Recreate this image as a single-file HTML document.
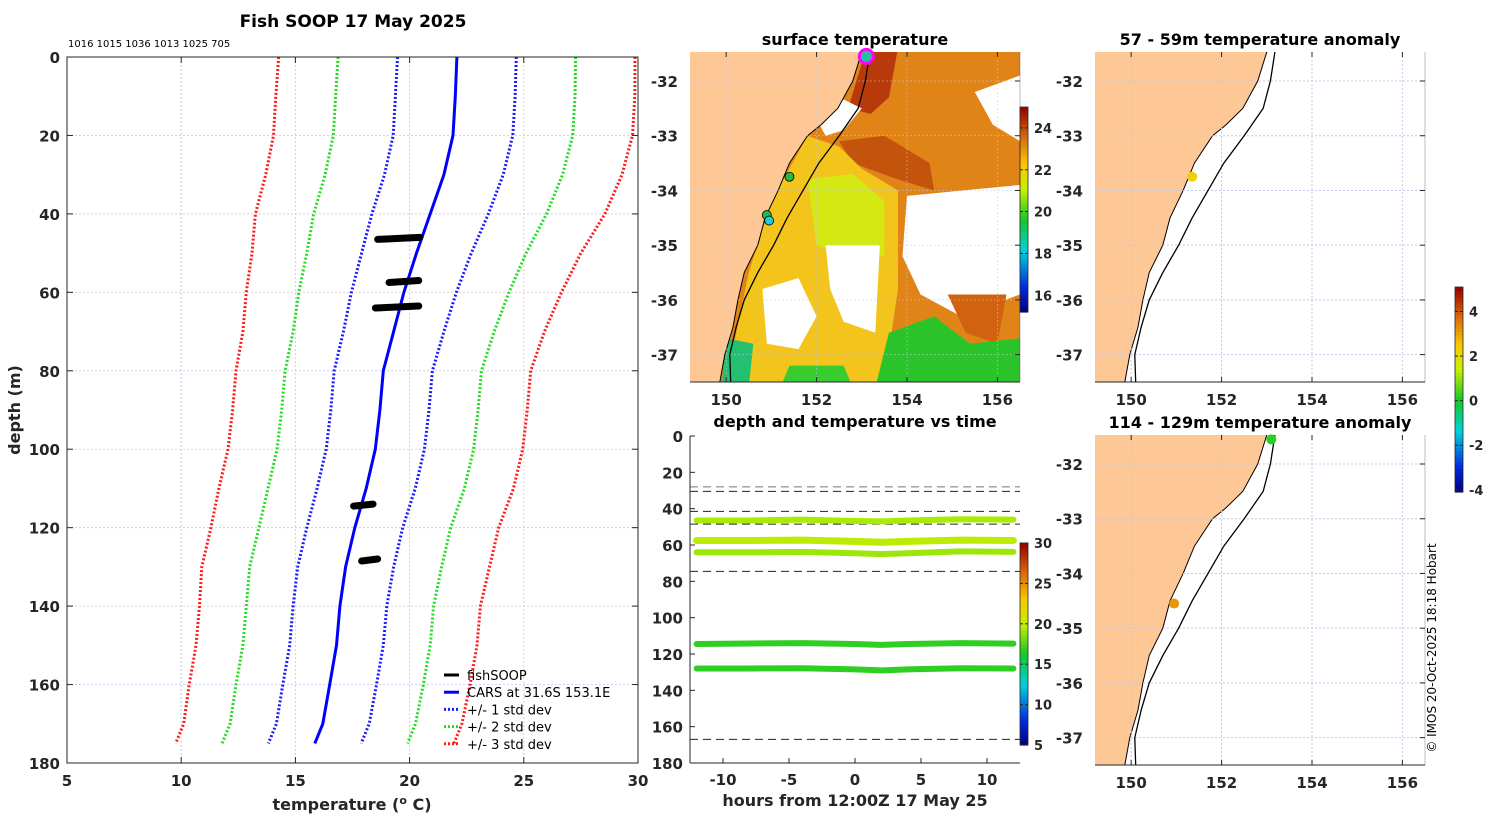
<!DOCTYPE html>
<html><head><meta charset="utf-8"><style>
body{margin:0;background:#fff;width:1500px;height:820px;overflow:hidden}
svg{display:block}
text{font-family:"DejaVu Sans","Liberation Sans",sans-serif;fill:#262626}
.tk{font-weight:bold;font-size:15px}
.pl{font-weight:normal}
.ttl{font-weight:bold;font-size:16px;fill:#000}
</style></head><body>
<svg id="s" width="1500" height="820" xmlns="http://www.w3.org/2000/svg"></svg>
<script>
// ---------- DATA ----------
const caDepths=[0,10,20,30,40,50,60,70,80,90,100,110,120,130,140,150,160,170,175];
const caMean=[22.07,22.0,21.9,21.5,20.9,20.3,19.75,19.3,18.85,18.7,18.5,18.1,17.6,17.2,16.95,16.8,16.5,16.2,15.85];
const caSd=[2.6,2.62,2.62,2.6,2.55,2.4,2.3,2.2,2.15,2.15,2.15,2.15,2.1,2.1,2.05,2.05,2.05,2.03,2.03];
const fsDepth=[46.5,57.5,64,114.5,128.5];
const fsTmin=[18.6,19.1,18.5,17.55,17.9];
const fsTmax=[20.45,20.4,20.4,18.4,18.6];
const xTicks=[5,10,15,20,25,30];
const yTicks=[0,20,40,60,80,100,120,140,160,180];
const tsHours=[-12,-8,-4,0,2,4,8,12];
const tsDepth1=[46.5,46.5,46,46.8,47,46.5,45.8,46];
const tsDepth2=[57.5,57.5,57.3,58,58.5,58,57.3,57.5];
const tsDepth3=[64,64,63.8,64.5,65,64.5,63.5,63.8];
const tsDepth4=[114.5,114.2,114,114.5,115,114.5,114,114.3];
const tsDepth5=[128,128,127.8,128.5,129,128.5,127.8,128];
const tsTemp=[19.4,19.7,19.1,16.8,16.8];
const dashDepths=[28,30.5,41.5,48.5,74.5,167];
const coastLon=[153.0,152.8,152.47,152.1,151.8,151.4,151.15,150.86,150.7,150.4,150.26,150.15,149.97,149.86];
const coastLat=[-31.47,-32,-32.5,-32.8,-33,-33.5,-34,-34.5,-35,-35.5,-36,-36.5,-37,-37.5];
const isoLon=[153.18,153.08,152.92,152.5,152.05,151.7,151.35,151.05,150.7,150.4,150.22,150.08,150.1];
const isoLat=[-31.47,-32,-32.5,-33,-33.5,-34,-34.5,-35,-35.5,-36,-36.5,-37,-37.5];
// ---------- HELPERS ----------
const S=document.getElementById('s');const NS='http://www.w3.org/2000/svg';
function el(t,a,p){const e=document.createElementNS(NS,t);for(const k in a)e.setAttribute(k,a[k]);(p||S).appendChild(e);return e;}
function tx(x,y,s,cls,anchor,extra){const e=el('text',Object.assign({x:x,y:y,class:cls===undefined?'tk':cls,'text-anchor':anchor||'middle'},extra||{}));e.textContent=s;return e;}
function jet(v,lo,hi){let t=(v-lo)/(hi-lo);t=Math.max(0,Math.min(1,t));
 const st=[[0,0,0,128],[0.12,0,40,220],[0.3,0,210,220],[0.45,20,200,40],[0.6,200,240,0],[0.72,250,200,0],[0.85,220,110,10],[1,150,0,0]];
 for(let i=1;i<st.length;i++){if(t<=st[i][0]){const a=st[i-1],b=st[i],f=(t-a[0])/(b[0]-a[0]);return `rgb(${Math.round(a[1]+f*(b[1]-a[1]))},${Math.round(a[2]+f*(b[2]-a[2]))},${Math.round(a[3]+f*(b[3]-a[3]))})`;}}return 'rgb(150,0,0)';}
function colorbar(x,y0,y1,lo,hi,ticks,name){const g=el('g',{});
 const n=60;for(let i=0;i<n;i++){const v=lo+(hi-lo)*(i+0.5)/n;const yy=y1-(y1-y0)*(i+1)/n;el('rect',{x:x,y:yy,width:8,height:(y1-y0)/n+0.6,fill:jet(v,lo,hi)},g);}
 el('rect',{x:x,y:y0,width:8,height:y1-y0,fill:'none',stroke:'#262626','stroke-width':0.8},g);
 ticks.forEach(t=>{const yy=y1-(t-lo)/(hi-lo)*(y1-y0);el('line',{x1:x,x2:x+3,y1:yy,y2:yy,stroke:'#262626'},g);el('line',{x1:x+5,x2:x+8,y1:yy,y2:yy,stroke:'#262626'},g);tx(x+14,yy+5,String(t),'tk','start',{style:'font-size:13px'});});}
// ---------- MAIN PROFILE ----------
const PX0=67,PX1=638,PY0=57,PY1=763;
const sx=t=>PX0+(t-5)/25*(PX1-PX0), sy=d=>PY0+d/180*(PY1-PY0);
tx(353,27,'Fish SOOP 17 May 2025','ttl','middle',{style:'font-size:17px'});
tx(68,47,'1016 1015 1036 1013 1025 705','pl','start',{style:'font-size:10px;fill:#000',});
const gg=el('g',{});
xTicks.slice(1,-1).forEach((t,i)=>el('line',{x1:sx(t),x2:sx(t),y1:PY0,y2:PY1,stroke:i%2?'#e8c8c8':'#c8d0ec','stroke-dasharray':'2,2'},gg));
yTicks.slice(1,-1).forEach((t,i)=>el('line',{x1:PX0,x2:PX1,y1:sy(t),y2:sy(t),stroke:i%2?'#c8d0ec':'#e8d0c8','stroke-dasharray':'2,2'},gg));
function prof(k,col,name){const pts=caDepths.map((d,i)=>sx(caMean[i]+k*caSd[i]).toFixed(1)+','+sy(d).toFixed(1)).join(' ');
 const e=el('polyline',{points:pts,fill:'none',stroke:col,'stroke-width':3,'stroke-dasharray':k===0?'none':'2,2'});}
prof(-3,'#ff1a1a','minus-3-std-line');prof(3,'#ff1a1a','plus-3-std-line');
prof(-2,'#22dd22','minus-2-std-line');prof(2,'#22dd22','plus-2-std-line');
prof(-1,'#1a1aff','minus-1-std-line');prof(1,'#1a1aff','plus-1-std-line');
prof(0,'#0000ff','cars-mean-line');
fsDepth.forEach((d,i)=>{const e=el('line',{x1:sx(fsTmin[i]),x2:sx(fsTmax[i]),y1:sy(d),y2:sy(d)-2,stroke:'#000','stroke-width':7,'stroke-linecap':'round'});});
el('rect',{x:PX0,y:PY0,width:PX1-PX0,height:PY1-PY0,fill:'none',stroke:'#262626','stroke-width':1});
xTicks.forEach(t=>{el('line',{x1:sx(t),x2:sx(t),y1:PY1,y2:PY1-6,stroke:'#262626'});el('line',{x1:sx(t),x2:sx(t),y1:PY0,y2:PY0+6,stroke:'#262626'});tx(sx(t),786,String(t));});
yTicks.forEach(t=>{el('line',{x1:PX0,x2:PX0+6,y1:sy(t),y2:sy(t),stroke:'#262626'});el('line',{x1:PX1,x2:PX1-6,y1:sy(t),y2:sy(t),stroke:'#262626'});tx(60,sy(t)+6,String(t),'tk','end');});
tx(20,410,'depth (m)','tk','middle',{transform:'rotate(-90 20 410)',style:'font-size:16px'});
(function(){const t=el('text',{x:352,y:810,'text-anchor':'middle',class:'tk',style:'font-size:16px'});t.innerHTML='temperature (<tspan dy="-6" style="font-size:11px">o</tspan><tspan dy="6"> C)</tspan>';})();
const leg=[['fishSOOP','#000','none'],['CARS at 31.6S 153.1E','#0000ff','none'],['+/- 1 std dev','#1a1aff','2,2'],['+/- 2 std dev','#22dd22','2,2'],['+/- 3 std dev','#ff1a1a','2,2']];
const lg=el('g',{});
leg.forEach((l,i)=>{const y=675+i*17.2;el('line',{x1:444,x2:459,y1:y,y2:y,stroke:l[1],'stroke-width':3,'stroke-dasharray':l[2]},lg);const t=el('text',{x:467,y:y+5,style:'font-size:13px;fill:#000'},lg);t.textContent=l[0];});
// ---------- MAPS ----------
function mapPanel(x0,y0,w,h,name,title,ty){const lo0=149.2,lo1=156.5,la0=-31.47,la1=-37.5;
 const mx=lo=>x0+(lo-lo0)/(lo1-lo0)*w,my=la=>y0+(la-la0)/(la1-la0)*h;
 const g=el('g',{});
 const cp='cp'+name;const c=el('clipPath',{id:cp},g);el('rect',{x:x0,y:y0,width:w,height:h},c);
 const inner=el('g',{'clip-path':`url(#${cp})`},g);
 return {g,inner,mx,my,x0,y0,w,h,title,ty};}
function finishMap(m,sst){const {g,inner,mx,my,x0,y0,w,h}=m;
 const cl=coastLon.map((lo,i)=>mx(lo)+','+my(coastLat[i])).join(' ');
 el('polygon',{points:`${x0-5},${y0-5} ${mx(153.2)},${y0-5} ${cl} ${mx(149.8)},${y0+h+5} ${x0-5},${y0+h+5}`,fill:'#fdc896',stroke:'#000','stroke-width':1},inner);
 [150,152,154,156].forEach(lo=>el('line',{x1:mx(lo),x2:mx(lo),y1:y0,y2:y0+h,stroke:'#c0c8e8','stroke-dasharray':'2,2','stroke-width':sst?0.5:1},inner));
 [-32,-33,-34,-35,-36,-37].forEach(la=>el('line',{x1:x0,x2:x0+w,y1:my(la),y2:my(la),stroke:'#c0c8e8','stroke-dasharray':'2,2','stroke-width':sst?0.5:1},inner));
 el('polyline',{points:isoLon.map((lo,i)=>mx(lo)+','+my(isoLat[i])).join(' '),fill:'none',stroke:'#000','stroke-width':1.3},inner);
 el('line',{x1:x0,x2:x0+w,y1:y0+h,y2:y0+h,stroke:'#262626'},g);el('line',{x1:x0+w,x2:x0+w,y1:y0,y2:y0+h,stroke:'#262626','stroke-opacity':0.3},g);
 [150,152,154,156].forEach(lo=>{el('line',{x1:mx(lo),x2:mx(lo),y1:y0+h,y2:y0+h-5,stroke:'#262626'},g);el('line',{x1:mx(lo),x2:mx(lo),y1:y0,y2:y0+5,stroke:'#262626'},g);tx(mx(lo),y0+h+23,String(lo));});
 [-32,-33,-34,-35,-36,-37].forEach(la=>{el('line',{x1:x0+w,x2:x0+w-5,y1:my(la),y2:my(la),stroke:'#262626'},g);tx(x0-12,my(la)+6,String(la),'tk','end');});
 tx(x0+w/2,m.ty,m.title,'ttl');}
// SST map
const m1=mapPanel(690,52,330,330,'sst-map','surface temperature',45);
(function(){const {inner,mx,my}=m1;const P=(arr,fill)=>el('polygon',{points:arr.map(p=>mx(p[0])+','+my(p[1])).join(' '),fill:fill},inner);
 P([[149,-31],[157,-31],[157,-38],[149,-38]],'#e08418');
 P([[153.1,-31.4],[153.8,-31.4],[153.6,-32.3],[153.2,-32.6],[152.7,-32.5]],'#b83a0a');
 P([[152.5,-33.1],[153.5,-33.0],[154.5,-33.5],[154.6,-34.0],[153.8,-33.8],[152.8,-33.5]],'#c4540c');
 P([[151.8,-33],[152.5,-33.2],[153,-33.6],[153.8,-34],[153.8,-35.8],[153.5,-37.5],[150,-37.5],[150.5,-35.5],[151,-34.2]],'#f3c41c');
 P([[151.8,-33.8],[152.8,-33.7],[153.5,-34.2],[153.5,-35.2],[152.8,-35.3],[152,-35]],'#d4e814');
 P([[152.2,-35.0],[153.4,-35.0],[153.3,-36.6],[152.6,-36.4],[152.3,-35.8]],'#ffffff');
 P([[150.8,-35.8],[151.6,-35.6],[152.0,-36.3],[151.6,-36.9],[150.9,-36.8]],'#ffffff');
 P([[154.0,-34.1],[156.5,-33.9],[156.5,-35.9],[155.2,-36.3],[154.3,-35.9],[153.9,-35.2]],'#ffffff');
 P([[155.5,-32.2],[156.5,-31.9],[156.5,-33.1],[155.9,-32.8]],'#ffffff');
 P([[153.0,-32.5],[152.6,-32.9],[152.2,-33.0],[152.0,-32.7],[152.5,-32.3]],'#ffffff');
 P([[154.9,-35.9],[156.2,-35.9],[156.0,-36.8],[155.3,-36.6]],'#d06210');
 P([[153.6,-36.6],[154.6,-36.3],[155.4,-36.8],[156.5,-36.7],[156.5,-37.6],[153.3,-37.6]],'#2ac42a');
 P([[150,-36.7],[150.6,-36.8],[150.5,-37.6],[149.9,-37.6]],'#22c070');
 P([[151.4,-37.2],[152.6,-37.2],[152.8,-37.6],[151.2,-37.6]],'#38cc30');
 finishMap(m1,true);
 const dots=[[153.1,-31.55,'#22c0a0','#ff00ff',7],[151.4,-33.75,'#22bb44','#000',4.5],[150.9,-34.45,'#22bb44','#000',4.5],[150.95,-34.55,'#22ccdd','#000',4.5]];
 dots.forEach(d=>{const e=el('circle',{cx:mx(d[0]),cy:my(d[1]),r:d[4],fill:d[2],stroke:d[3],'stroke-width':d[3]==='#ff00ff'?3:0.8},m1.g);});})();
colorbar(1020,107,312,15.2,25,[16,18,20,22,24],'sst-colorbar');
// anomaly maps
const m2=mapPanel(1095,52,330,330,'anomaly-map-57-59m','57 - 59m temperature anomaly',45);finishMap(m2,false);
(function(){const e=el('circle',{cx:m2.mx(151.35),cy:m2.my(-33.75),r:5,fill:jet(2.3,-4.1,5.1)},m2.g);})();
const m3=mapPanel(1095,435,330,330,'anomaly-map-114-129m','114 - 129m temperature anomaly',428);finishMap(m3,false);
(function(){[[153.1,-31.55,0.2],[150.95,-34.55,3.2]].forEach(d=>{const e=el('circle',{cx:m3.mx(d[0]),cy:m3.my(d[1]),r:5,fill:jet(d[2],-4.1,5.1)},m3.g);});})();
colorbar(1455,287,492,-4.1,5.1,[-4,-2,0,2,4],'anomaly-colorbar');
// ---------- TIME PANEL ----------
const TX0=690,TX1=1020,TY0=436,TY1=763;
const hx=h=>TX0+(h+12.5)/25*(TX1-TX0),dy=d=>TY0+d/180*(TY1-TY0);
tx(855,427,'depth and temperature vs time','ttl');
dashDepths.forEach((d,i)=>{const e=el('line',{x1:TX0,x2:TX1,y1:dy(d),y2:dy(d),stroke:i===0?'#777':'#222','stroke-dasharray':'8,5','stroke-width':1});});
[tsDepth1,tsDepth2,tsDepth3,tsDepth4,tsDepth5].forEach((s,i)=>{const e=el('polyline',{points:tsHours.map((h,j)=>hx(h).toFixed(1)+','+dy(s[j]).toFixed(1)).join(' '),fill:'none',stroke:jet(tsTemp[i],5,30),'stroke-width':i===1?7:6,'stroke-linecap':'round'});});
el('line',{x1:TX0,x2:TX0,y1:TY0,y2:TY1,stroke:'#262626'});el('line',{x1:TX0,x2:TX1,y1:TY1,y2:TY1,stroke:'#262626'});
[-10,-5,0,5,10].forEach(h=>{el('line',{x1:hx(h),x2:hx(h),y1:TY1,y2:TY1-5,stroke:'#262626'});tx(hx(h),785,String(h));});
yTicks.forEach(t=>{el('line',{x1:TX0,x2:TX0+5,y1:dy(t),y2:dy(t),stroke:'#262626'});tx(683,dy(t)+6,String(t),'tk','end');});
tx(855,806,'hours from 12:00Z 17 May 25','tk','middle',{style:'font-size:16px',});
colorbar(1020,543,745,5,30,[5,10,15,20,25,30],'depth-temp-colorbar');
tx(1436,648,'© IMOS 20-Oct-2025 18:18 Hobart','pl','middle',{transform:'rotate(-90 1436 648)',style:'font-size:12px;fill:#000',});
</script>
</body></html>
